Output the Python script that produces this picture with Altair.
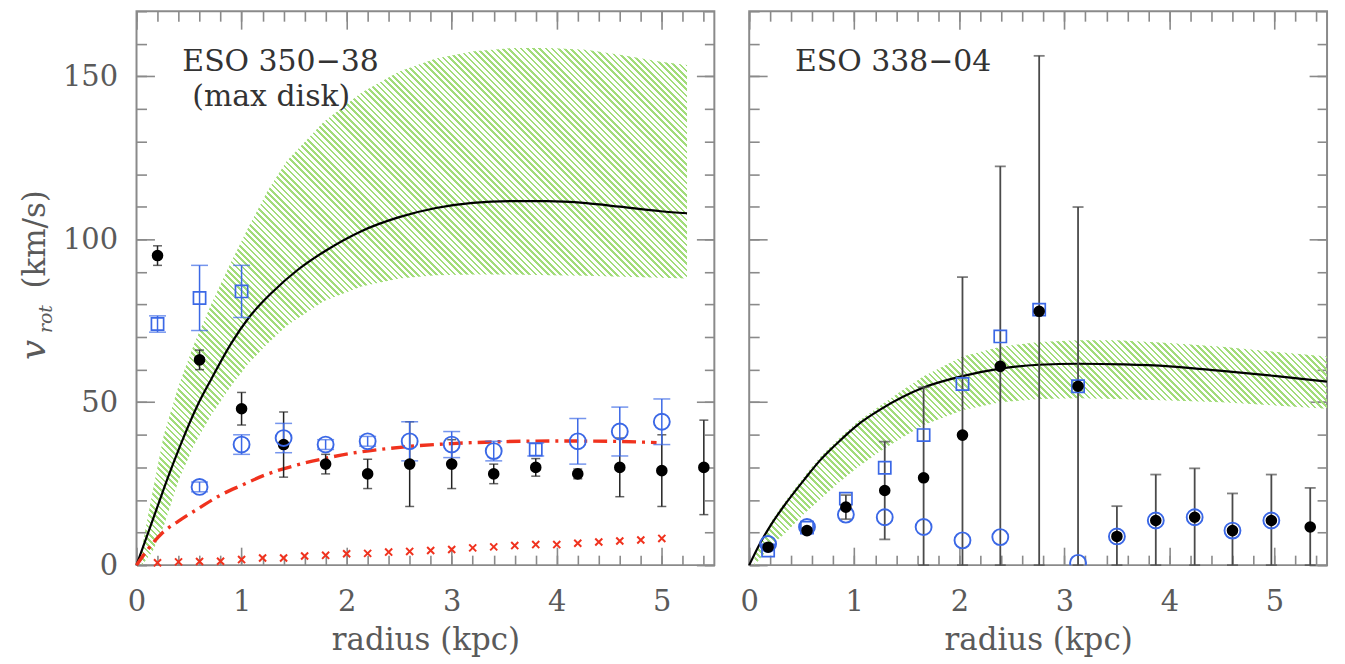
import math
import altair as alt
import pandas as pd

FONT = "DejaVu Serif"
W, H = 580, 556
XMAX, YMAX = 5.5, 170

# ---------------- left panel : ESO 350-38 ----------------
L_R = [0.2, 0.6, 1.0, 1.4, 1.8, 2.2, 2.6, 3.0, 3.4, 3.8, 4.2, 4.6, 5.0, 5.4]
L_BLACK_V = [95, 63, 48, 37, 31, 28, 31, 31, 28, 30, 28, 30, 29, 30]
L_BLACK_E = [3, 3, 5, 10, 3, 4.5, 13, 7.5, 3, 2.7, 1.5, 9, 11, 14.5]

L_CIRC_R = [0.6, 1.0, 1.4, 1.8, 2.2, 2.6, 3.0, 3.4, 4.2, 4.6, 5.0]
L_CIRC_V = [24, 37, 39, 37, 38, 38, 37, 35, 38, 41, 44]
L_CIRC_E = [1.5, 3, 4.5, 1.5, 1.5, 6, 4, 3, 7, 7.5, 7]

L_SQ_R = [0.2, 0.6, 1.0, 3.8]
L_SQ_V = [74, 82, 84, 35.5]
L_SQ_E = [2.5, 10, 8, 2]

L_X_R = [0.2, 0.4, 0.6, 0.8, 1.0, 1.2, 1.4, 1.6, 1.8, 2.0, 2.2, 2.4, 2.6,
         2.8, 3.0, 3.2, 3.4, 3.6, 3.8, 4.0, 4.2, 4.4, 4.6, 4.8, 5.0]
L_X_V = [0.7, 1.0, 1.1, 1.2, 1.7, 2.2, 2.2, 2.8, 3.0, 3.5, 3.6, 4.0, 4.2,
         4.5, 4.8, 5.3, 5.6, 6.0, 6.3, 6.3, 6.7, 7.1, 7.4, 7.7, 8.2]

L_DD_R = [0, 0.1, 0.25, 0.4, 0.6, 0.8, 1.0, 1.25, 1.5, 1.8, 2.1, 2.4, 2.7, 3.0, 3.5, 4.0, 4.5, 4.95]
L_DD_V = [0, 4.5, 10, 13.5, 17.6, 21.5, 24.5, 28, 30.5, 32.8, 34.6, 35.8, 36.7, 37.3, 37.9, 38.1, 38.0, 37.6]

L_CURVE_R = [0, 0.1, 0.2, 0.3, 0.42, 0.58, 0.71, 0.9, 1.07, 1.3, 1.53, 1.8, 2.14, 2.5,
             2.85, 3.2, 3.57, 3.9, 4.28, 4.6, 4.99, 5.24]
L_CURVE_V = [0, 9, 18, 27, 37, 49, 57, 68, 76, 84, 90.5, 96.5, 102.5, 106.8,
             109.6, 111.2, 111.7, 111.7, 111.1, 110, 108.6, 108]

L_BAND_R = [0.05, 0.15, 0.26, 0.4, 0.55, 0.71, 0.9, 1.07, 1.25, 1.43, 1.78, 2.14, 2.5,
            2.85, 3.21, 3.57, 3.92, 4.28, 4.63, 4.99, 5.24]
L_BAND_HI = [5, 22, 40, 55, 68, 80, 93, 104, 115, 124, 136, 145, 151.5,
             155.5, 157.7, 158.7, 158.7, 158.2, 156.5, 154.5, 153.5]
L_BAND_LO = [0, 4, 12, 26, 37, 46, 55, 62, 68, 73.5, 81, 85.5, 88,
             89, 89.2, 89.2, 89, 88.8, 88.5, 88.2, 88]

# ---------------- right panel : ESO 338-04 ----------------
R_R = [0.18, 0.55, 0.92, 1.29, 1.66, 2.03, 2.39, 2.76, 3.13, 3.50, 3.87, 4.24, 4.60, 4.97, 5.34]
R_BLACK_V = [5.5, 10.6, 17.8, 22.9, 26.8, 39.9, 61, 77.9, 54.9, 8.8, 13.7, 14.7, 10.6, 13.7, 11.7]
R_BLACK_E = [0.8, 0.8, 3.7, 15, 27.8, 48.5, 61.4, 78.4, 55, 9.3, 14.1, 15, 11.4, 14.1, 12]

R_CIRC_R = [0.18, 0.55, 0.92, 1.29, 1.66, 2.03, 2.39, 3.13, 3.50, 3.87, 4.24, 4.60, 4.97]
R_CIRC_V = [6.5, 11.7, 15.5, 14.7, 11.7, 7.6, 8.6, 0.7, 8.8, 13.7, 14.7, 10.6, 13.7]

R_SQ_R = [0.18, 0.55, 0.92, 1.29, 1.66, 2.03, 2.39, 2.76, 3.13]
R_SQ_V = [4.5, 11.5, 20.4, 29.9, 39.9, 55.6, 70.2, 78.4, 54.9]

R_CURVE_R = [0, 0.1, 0.21, 0.35, 0.53, 0.67, 0.84, 1.03, 1.25, 1.66, 2.03, 2.39, 2.76,
             3.13, 3.57, 4.0, 4.5, 5.02, 5.5]
R_CURVE_V = [0, 6.5, 12.5, 19, 26.5, 32, 37.5, 43, 47.8, 54.5, 58, 60.3, 61.5,
             61.8, 61.6, 61, 59.6, 58, 56.3]

R_BAND_R = [0.05, 0.21, 0.35, 0.53, 0.67, 0.84, 1.03, 1.25, 1.45, 1.66, 2.03, 2.39, 2.76,
            3.13, 3.5, 4.0, 4.5, 5.0, 5.5]
R_BAND_HI = [3, 13.5, 20, 27.5, 33, 38.5, 44, 49, 53.5, 58, 64, 67, 68.5,
             69, 69, 68.2, 67, 65.5, 64]
R_BAND_LO = [0, 6, 10, 16, 20, 25, 30, 35, 39, 43, 47.5, 50, 51,
             51.2, 51, 50.5, 50, 49, 48]

X_MAJOR = [0, 1, 2, 3, 4, 5]
X_MINOR = [round(i * 0.2, 1) for i in range(28)]
Y_MAJOR = [0, 50, 100, 150]
Y_MINOR = [i * 10 for i in range(18)]

# ---------------- styles ----------------
BLUE = "#3b68e6"
RED = "#f0321e"
GREEN = "#a2dc7a"
TICK = "#8a8a8a"
LABEL = "#5a5a5a"

XS = alt.Scale(domain=[0, XMAX], nice=False, zero=False)
YS = alt.Scale(domain=[0, YMAX], nice=False, zero=False)

COMMON = dict(grid=False, domain=False, tickColor=TICK, tickWidth=1.6)


def x_axis(kind, labels=True):
    if kind == "bottom":
        return alt.Axis(orient="bottom", values=X_MAJOR, tickSize=18, offset=-18,
                        labels=labels, labelFont=FONT, labelFontSize=29, labelColor=LABEL,
                        labelPadding=23, labelFlush=False, format="d",
                        titleFont=FONT, titleFontSize=31, titleFontWeight="normal",
                        titleColor=LABEL, titlePadding=9, **COMMON)
    if kind == "bottom_minor":
        return alt.Axis(orient="bottom", values=X_MINOR, tickSize=10, offset=-10,
                        labels=False, **COMMON)
    if kind == "top":
        return alt.Axis(orient="top", values=X_MAJOR, tickSize=18, offset=-18,
                        labels=False, **COMMON)
    return alt.Axis(orient="top", values=X_MINOR, tickSize=10, offset=-10,
                    labels=False, **COMMON)


def y_axis(kind, labels=True):
    if kind == "left":
        return alt.Axis(orient="left", values=Y_MAJOR, tickSize=18, offset=-18,
                        labels=labels, labelFont=FONT, labelFontSize=29, labelColor=LABEL,
                        labelPadding=19, format="d", **COMMON)
    if kind == "left_minor":
        return alt.Axis(orient="left", values=Y_MINOR, tickSize=10, offset=-10,
                        labels=False, **COMMON)
    if kind == "right":
        return alt.Axis(orient="right", values=Y_MAJOR, tickSize=18, offset=-18,
                        labels=False, **COMMON)
    return alt.Axis(orient="right", values=Y_MINOR, tickSize=10, offset=-10,
                    labels=False, **COMMON)


def X(field, axis=None, title=None):
    if axis is None:
        return alt.X(field, type="quantitative", scale=XS, axis=None)
    if title is None:
        return alt.X(field, type="quantitative", scale=XS, axis=axis, title=None)
    return alt.X(field, type="quantitative", scale=XS, axis=axis, title=title)


def Y(field, axis=None):
    if axis is None:
        return alt.Y(field, type="quantitative", scale=YS, axis=None)
    return alt.Y(field, type="quantitative", scale=YS, axis=axis, title=None)


def stripes(r_vals, hi_vals, period=4.4, frac=0.42):
    wb = (max(r_vals) - min(r_vals)) * W / XMAX
    hb = max(hi_vals) * H / YMAX
    r = hb / wb
    n = int(round((wb + hb) / (math.sqrt(2) * period)))
    a = (1 + r) / (1 + r * r)
    clear = "rgba(255,255,255,0)"
    stops = []
    for i in range(n):
        o0, o1, o2 = i / n, (i + frac) / n, (i + 1) / n
        stops += [alt.GradientStop(color=GREEN, offset=o0),
                  alt.GradientStop(color=GREEN, offset=o1),
                  alt.GradientStop(color=clear, offset=o1),
                  alt.GradientStop(color=clear, offset=o2)]
    return alt.LinearGradient(gradient="linear", stops=stops,
                              x1=0, y1=1, x2=a, y2=1 - a * r)


def band_layer(rs, lo, hi, xax, yax):
    df = pd.DataFrame({"r": rs, "lo": lo, "hi": hi})
    return alt.Chart(df).mark_area(color=stripes(rs, hi)).encode(
        x=X("r", xax, title="radius (kpc)"),
        y=Y("hi", yax), y2="lo")


def line_layer(rs, vs, xax, yax, color="black", width=2.2, dash=None):
    df = pd.DataFrame({"r": rs, "v": vs})
    kw = dict(color=color, strokeWidth=width, interpolate="monotone")
    if dash is not None:
        kw["strokeDash"] = dash
    return alt.Chart(df).mark_line(**kw).encode(x=X("r", xax), y=Y("v", yax))


def err_layers(rs, vs, es, color, cap, width=1.5):
    df = pd.DataFrame({"r": rs, "v": vs, "e": es})
    base = alt.Chart(df).transform_calculate(
        lo="max(0, datum.v - datum.e)", hi="datum.v + datum.e")
    rule = base.mark_rule(color=color, strokeWidth=width).encode(
        x=X("r"), y=Y("lo:Q"), y2="hi:Q")
    cap_hi = base.mark_tick(color=color, orient="horizontal", size=cap, thickness=width).encode(
        x=X("r"), y=Y("hi:Q"))
    cap_lo = base.mark_tick(color=color, orient="horizontal", size=cap, thickness=width).encode(
        x=X("r"), y=Y("lo:Q"))
    return [rule, cap_hi, cap_lo]


def points(rs, vs, kind, xax=None, yax=None):
    df = pd.DataFrame({"r": rs, "v": vs})
    if kind == "black":
        m = alt.Chart(df).mark_circle(color="black", opacity=1, size=135)
    elif kind == "circle":
        m = alt.Chart(df).mark_point(shape="circle", filled=False, color=BLUE,
                                     size=256, strokeWidth=1.9, opacity=1, clip=True)
    elif kind == "square":
        m = alt.Chart(df).mark_point(shape="square", filled=False, color=BLUE,
                                     size=150, strokeWidth=1.7, opacity=1)
    else:
        m = alt.Chart(df).mark_point(shape="M-1,-1L1,1M-1,1L1,-1", filled=False,
                                     color=RED, size=50, strokeWidth=2, opacity=1)
    return m.encode(x=X("r", xax), y=Y("v", yax))


def text_layer(txt, x, y, size=30, italic=False, angle=0, align="left",
               baseline="alphabetic", color="#333333"):
    df = pd.DataFrame({"t": [txt]})
    kw = dict(font=FONT, fontSize=size, color=color, align=align, baseline=baseline)
    if italic:
        kw["fontStyle"] = "italic"
    if angle:
        kw["angle"] = angle
    return alt.Chart(df).mark_text(**kw).encode(
        text="t:N", x=alt.value(x), y=alt.value(y))


# ---------------- build left panel ----------------
left_layers = [
    band_layer(L_BAND_R, L_BAND_LO, L_BAND_HI, x_axis("bottom"), y_axis("left")),
    line_layer(L_CURVE_R, L_CURVE_V, x_axis("bottom_minor"), y_axis("left_minor")),
    line_layer(L_DD_R, L_DD_V, x_axis("top"), y_axis("right"), color=RED, width=3.4,
               dash=[14, 6, 3, 6]),
    points(L_X_R, L_X_V, "x", x_axis("top_minor"), y_axis("right_minor")),
]
left_layers += err_layers(L_R, L_BLACK_V, L_BLACK_E, "#222222", 9)
left_layers += err_layers(L_CIRC_R, L_CIRC_V, L_CIRC_E, BLUE, 17)
left_layers += err_layers(L_SQ_R, L_SQ_V, L_SQ_E, BLUE, 17)
left_layers += [
    points(L_R, L_BLACK_V, "black"),
    points(L_CIRC_R, L_CIRC_V, "circle"),
    points(L_SQ_R, L_SQ_V, "square"),
    text_layer("ESO 350\u221238", 46, 60),
    text_layer("(max disk)", 56, 95),
    text_layer("(km/s)", -101, 229, size=31, angle=270, align="center",
               baseline="middle", color=LABEL),
    text_layer("v", -103, 340, size=36, italic=True, angle=270, align="center",
               baseline="middle", color=LABEL),
    text_layer("rot", -91, 309, size=19, italic=True, angle=270, align="center",
               baseline="middle", color=LABEL),
]
left = alt.layer(*left_layers).properties(width=W, height=H).resolve_axis(
    x="independent", y="independent")

# ---------------- build right panel ----------------
right_layers = [
    band_layer(R_BAND_R, R_BAND_LO, R_BAND_HI, x_axis("bottom"), y_axis("left", labels=False)),
    line_layer(R_CURVE_R, R_CURVE_V, x_axis("bottom_minor"), y_axis("left_minor")),
]
right_layers += err_layers(R_R, R_BLACK_V, R_BLACK_E, "#4a4a4a", 11, width=1.8)
right_layers += [
    points(R_SQ_R, R_SQ_V, "square", x_axis("top"), y_axis("right")),
    points(R_CIRC_R, R_CIRC_V, "circle", x_axis("top_minor"), y_axis("right_minor")),
    points(R_R, R_BLACK_V, "black"),
    text_layer("ESO 338\u221204", 46, 60),
]
right = alt.layer(*right_layers).properties(width=W, height=H).resolve_axis(
    x="independent", y="independent")

chart = alt.hconcat(left, right, spacing=35, bounds="flush").properties(
    padding={"left": 7, "top": 0, "right": 4, "bottom": 0}
).configure_view(stroke="#8a8a8a", strokeWidth=2)

chart.save("out.html", embed_options={"renderer": "svg", "actions": False})
